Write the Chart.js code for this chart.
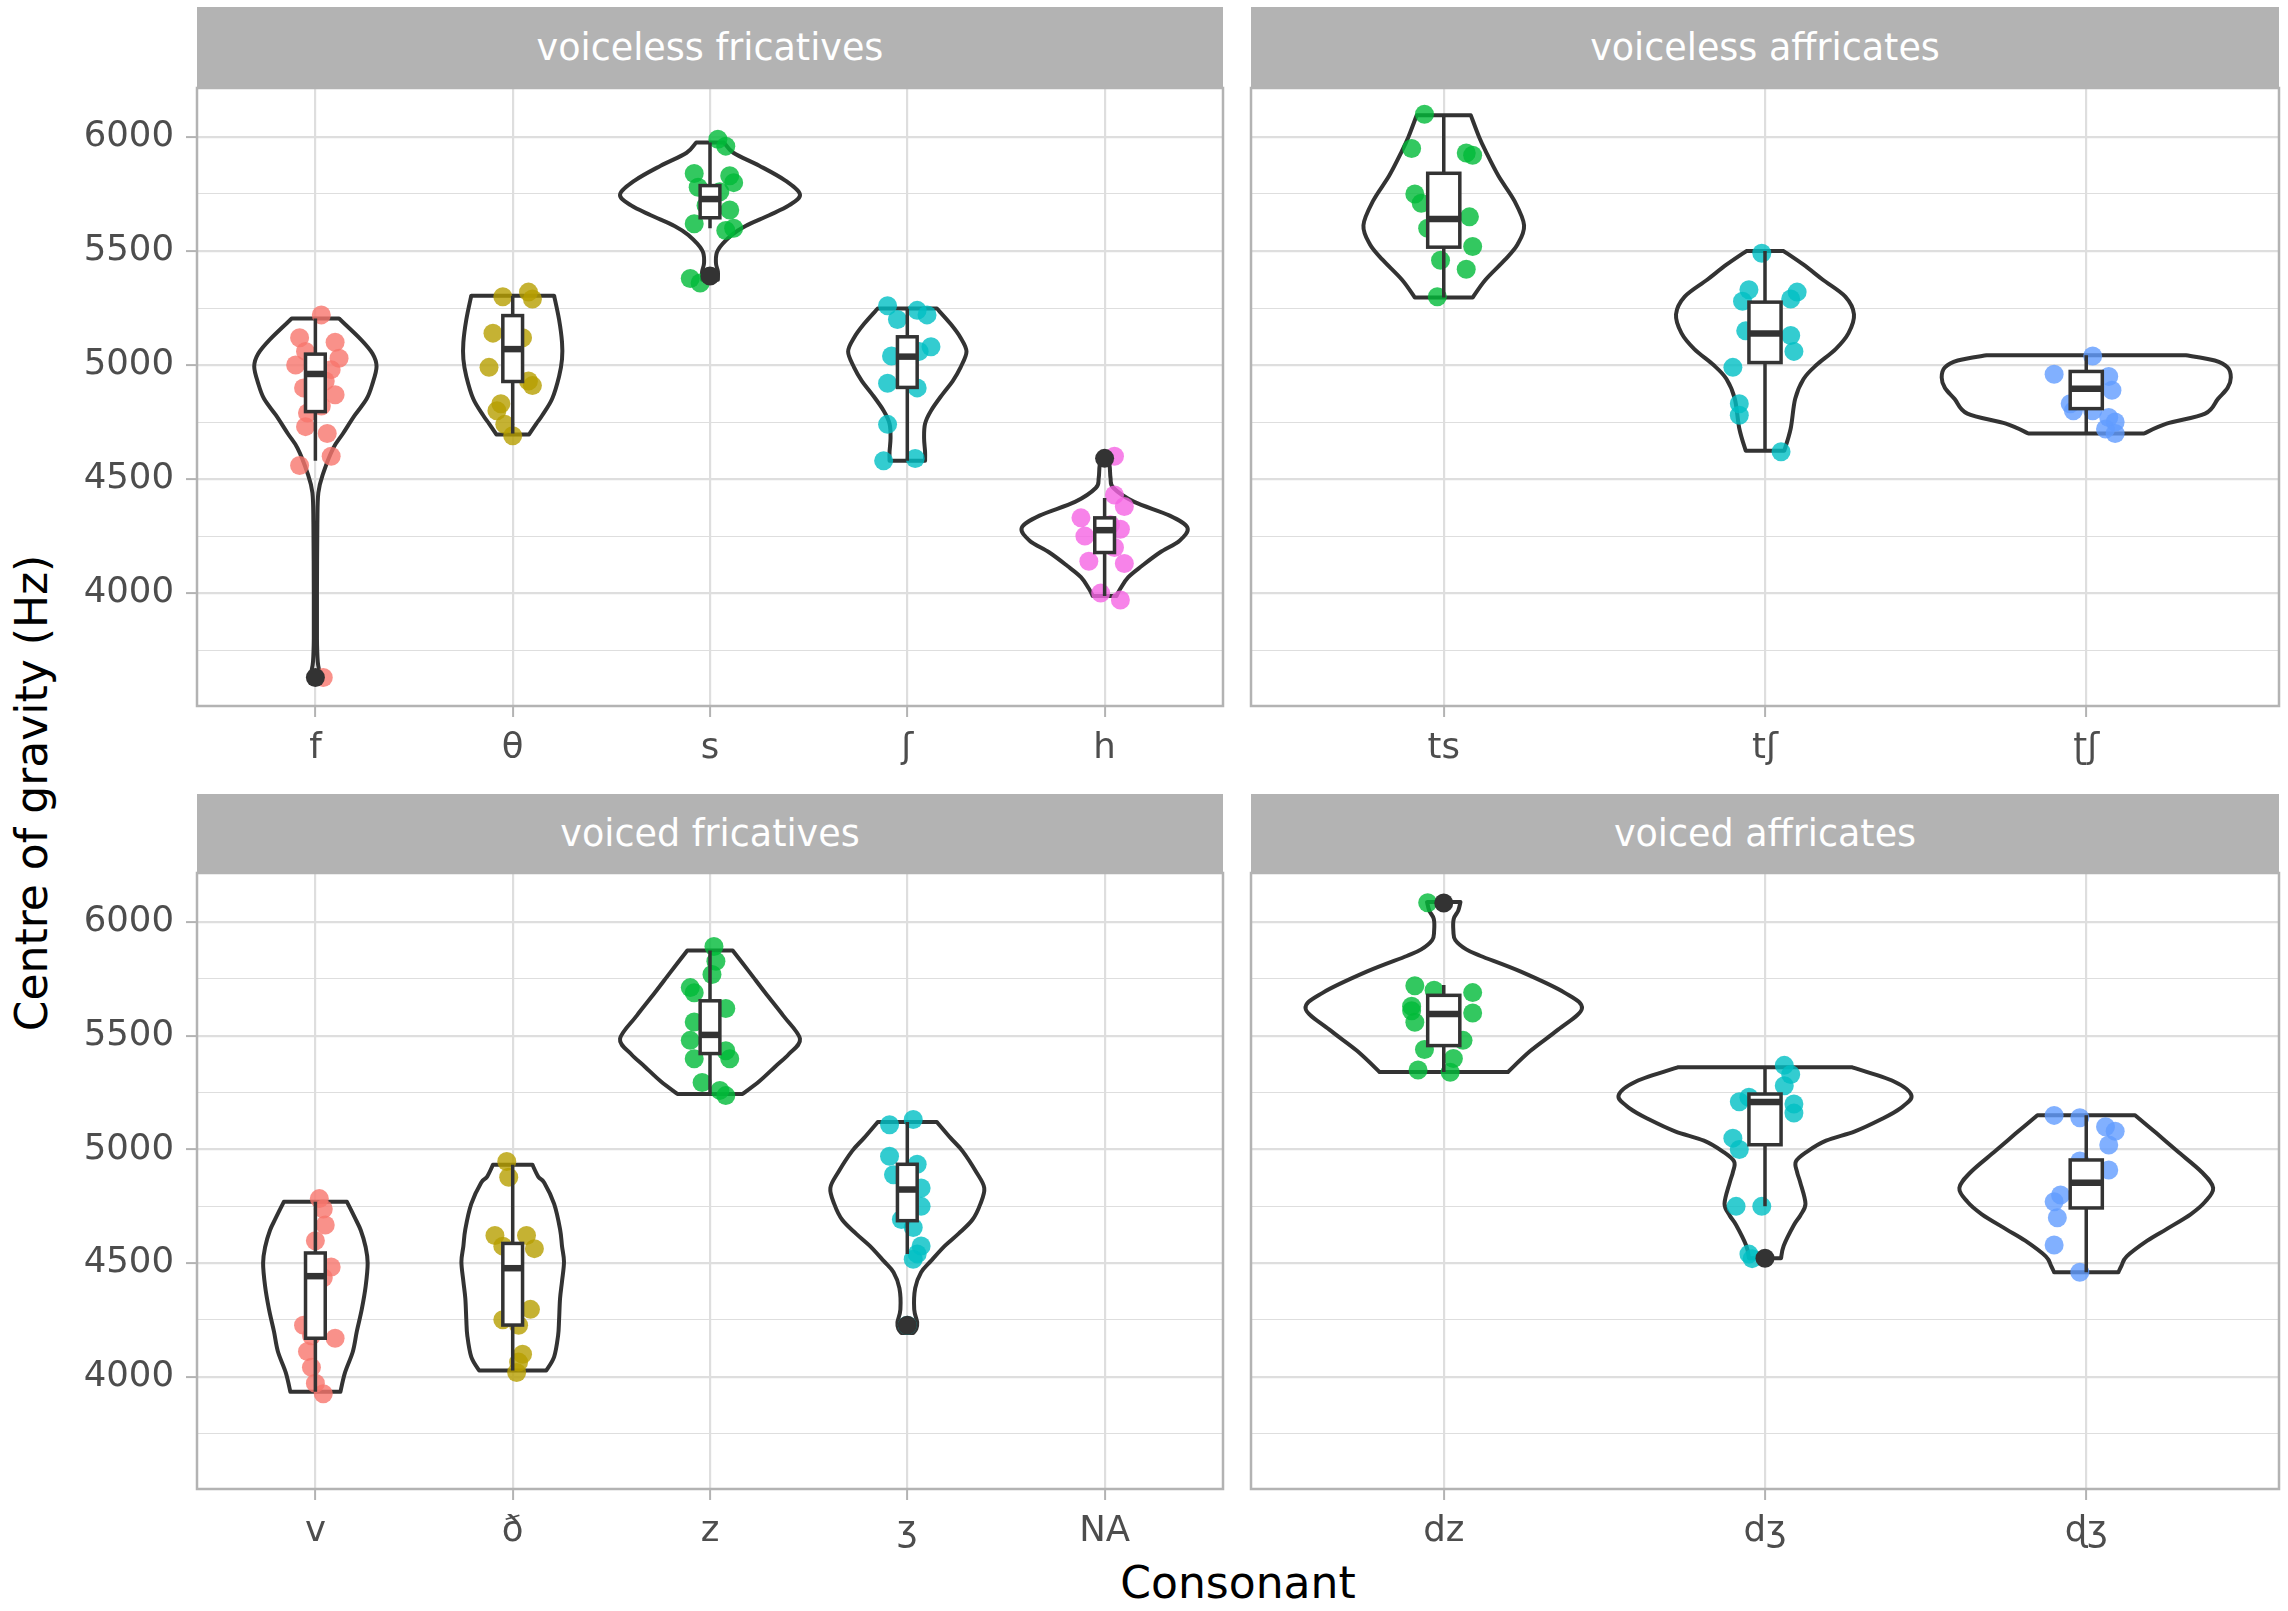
<!DOCTYPE html>
<html>
<head>
<meta charset="utf-8">
<title>Centre of gravity by consonant</title>
<script src="https://cdn.jsdelivr.net/npm/chart.js@4.4.1/dist/chart.umd.min.js"></script>
<style>
  body { margin: 0; background: #fff; width: 2288px; height: 1611px; overflow: hidden; position: relative; font-family: "DejaVu Sans", sans-serif; }
  .strip { position: absolute; background: #B3B3B3; color: #fff; font-size: 36.5px; display: flex; align-items: center; justify-content: center; }
  canvas { position: absolute; }
  .axtitle { position: absolute; color: #000; font-size: 44px; white-space: nowrap; text-align: center; height: 56px; line-height: 56px; }
</style>
</head>
<body>
<div class="axtitle" style="left:-268px; top:765px; width:600px; transform:rotate(-90deg);">Centre of gravity (Hz)</div>
<div class="axtitle" style="left:938px; top:1555px; width:600px;">Consonant</div>
<script>
// Categories per facet
const vlFricCats = ['f', 'θ', 's', 'ʃ', 'h'];
const vlAffrCats = ['ts', 'tʃ', 'ʈʃ'];
const vdFricCats = ['v', 'ð', 'z', 'ʒ', 'NA'];
const vdAffrCats = ['dz', 'dʒ', 'ɖʒ'];
const facetTitles = ['voiceless fricatives', 'voiceless affricates', 'voiced fricatives', 'voiced affricates'];

// y axis (Hz)
const yMajorTicks = [4000, 4500, 5000, 5500, 6000];
const yMinorTicks = [3750, 4250, 4750, 5250, 5750];

// Boxplot stats: [lower whisker, Q1, median, Q3, upper whisker]
const box_f   = [4580, 4796, 4961, 5048, 5204];
const box_th  = [4700, 4928, 5070, 5217, 5304];
const box_s   = [5600, 5646, 5728, 5787, 5976];
const box_sh  = [4580, 4902, 5037, 5124, 5248];
const box_h   = [3987, 4178, 4276, 4330, 4417];
const box_ts  = [5296, 5517, 5641, 5841, 6096];
const box_tsh = [4624, 5011, 5139, 5276, 5500];
const box_tsr = [4700, 4809, 4896, 4972, 5043];
const box_v   = [3935, 4170, 4443, 4545, 4770];
const box_dh  = [4028, 4228, 4478, 4587, 4933];
const box_z   = [5244, 5422, 5504, 5654, 5875];
const box_zh  = [4541, 4687, 4824, 4935, 5121];
const box_dz  = [5341, 5457, 5596, 5678, 5724];
const box_dzh = [4750, 5021, 5209, 5244, 5362];
const box_dzr = [4460, 4743, 4854, 4954, 5151];

// Boxplot outliers
const out_f = [3630];
const out_s = [5391];
const out_h = [4591];
const out_zh = [4227];
const out_dz = [6084];
const out_dzh = [4522];

// Violin outlines: [Hz, half width in category units]
const vio_f = [[5204,0.12],[5113,0.23],[5050,0.29],[4994,0.31],[4920,0.29],[4852,0.26],[4780,0.2],[4700,0.14],[4635,0.09],[4526,0.04],[4440,0.015],[4300,0.01],[4000,0.008],[3800,0.008],[3700,0.012],[3655,0.02],[3630,0.015]];
const vio_th = [[5304,0.21],[5200,0.235],[5100,0.25],[5026,0.25],[4950,0.235],[4852,0.2],[4780,0.15],[4743,0.12],[4696,0.083]];
const vio_s = [[5976,0.07],[5930,0.12],[5874,0.25],[5810,0.38],[5748,0.456],[5700,0.4],[5657,0.3],[5610,0.18],[5570,0.11],[5504,0.04],[5450,0.03],[5410,0.04],[5374,0.04]];
const vio_sh = [[5248,0.15],[5180,0.22],[5120,0.27],[5059,0.3],[4990,0.27],[4930,0.23],[4874,0.18],[4800,0.12],[4743,0.09],[4680,0.085],[4620,0.09],[4580,0.09]];
const vio_h = [[4602,0.01],[4560,0.025],[4504,0.03],[4461,0.045],[4400,0.15],[4340,0.33],[4287,0.42],[4230,0.38],[4178,0.28],[4120,0.19],[4070,0.12],[4020,0.08],[3987,0.06]];
const vio_ts = [[6096,0.084],[6000,0.11],[5939,0.13],[5830,0.17],[5720,0.22],[5613,0.25],[5530,0.23],[5461,0.19],[5374,0.13],[5296,0.09]];
const vio_tsh = [[5500,0.058],[5440,0.12],[5374,0.18],[5300,0.25],[5222,0.277],[5140,0.26],[5070,0.22],[5000,0.16],[4939,0.12],[4852,0.094],[4722,0.08],[4624,0.06]];
const vio_tsr = [[5043,0.31],[5020,0.4],[4990,0.44],[4946,0.45],[4900,0.44],[4852,0.41],[4787,0.37],[4743,0.25],[4700,0.18]];
const vio_v = [[4770,0.16],[4700,0.2],[4645,0.23],[4570,0.255],[4501,0.265],[4400,0.255],[4297,0.235],[4200,0.21],[4112,0.19],[4019,0.15],[3935,0.127]];
const vio_dh = [[4933,0.1],[4880,0.13],[4854,0.16],[4761,0.21],[4650,0.24],[4575,0.25],[4506,0.26],[4420,0.25],[4344,0.24],[4250,0.235],[4181,0.23],[4088,0.21],[4028,0.17]];
const vio_z = [[5875,0.115],[5780,0.2],[5689,0.28],[5590,0.37],[5487,0.456],[5420,0.4],[5364,0.33],[5300,0.25],[5244,0.165]];
const vio_zh = [[5121,0.15],[5050,0.22],[4993,0.28],[4900,0.35],[4831,0.39],[4760,0.37],[4691,0.33],[4630,0.26],[4576,0.19],[4510,0.12],[4460,0.07],[4390,0.04],[4297,0.035],[4240,0.05],[4210,0.045],[4193,0.03]];
const vio_dz = [[6088,0.052],[6050,0.045],[6014,0.031],[5960,0.03],[5921,0.036],[5880,0.07],[5851,0.115],[5782,0.24],[5689,0.377],[5619,0.43],[5527,0.356],[5434,0.27],[5341,0.2]];
const vio_dzh = [[5362,0.27],[5300,0.4],[5237,0.456],[5180,0.42],[5132,0.36],[5080,0.28],[5039,0.19],[4990,0.13],[4947,0.096],[4900,0.1],[4854,0.11],[4761,0.126],[4710,0.11],[4668,0.09],[4576,0.058],[4522,0.05]];
const vio_dzr = [[5151,0.152],[5070,0.22],[4993,0.283],[4900,0.36],[4831,0.395],[4770,0.37],[4715,0.325],[4650,0.25],[4599,0.19],[4530,0.126],[4490,0.11],[4460,0.1]];

// Jittered tokens: [horizontal jitter, Hz]
const pts_f = [[0.03,5220],[-0.08,5120],[0.1,5100],[-0.05,5060],[0.12,5030],[-0.1,5000],[0.08,4980],[0.05,4930],[-0.06,4900],[0.1,4870],[0.03,4820],[-0.04,4790],[-0.05,4730],[0.06,4700],[0.08,4600],[-0.08,4560],[0.04,3630]];
const pts_th = [[0.08,5320],[-0.05,5300],[0.1,5290],[-0.1,5140],[0.05,5120],[-0.12,4990],[0.08,4930],[0.1,4910],[-0.06,4830],[-0.08,4800],[-0.04,4740],[0.0,4690]];
const pts_s = [[0.04,5990],[0.08,5960],[-0.08,5840],[0.1,5830],[0.12,5800],[-0.06,5780],[0.05,5760],[-0.02,5700],[0.1,5680],[-0.08,5620],[0.12,5600],[0.08,5590],[-0.1,5380],[-0.05,5360]];
const pts_sh = [[-0.1,5260],[0.05,5240],[0.1,5220],[-0.05,5200],[0.12,5080],[0.06,5060],[-0.08,5040],[-0.1,4920],[0.05,4900],[-0.1,4740],[-0.12,4580],[0.04,4590]];
const pts_h = [[0.05,4600],[0.05,4430],[0.1,4380],[-0.12,4330],[0.03,4300],[0.08,4280],[-0.1,4250],[0.05,4200],[-0.08,4140],[0.1,4130],[-0.02,4000],[0.08,3970]];
const pts_ts = [[-0.06,6100],[-0.1,5950],[0.07,5930],[0.09,5920],[-0.09,5750],[-0.07,5710],[0.08,5650],[-0.05,5600],[0.09,5520],[-0.01,5460],[0.07,5420],[-0.02,5300]];
const pts_tsh = [[-0.01,5490],[-0.05,5330],[0.1,5320],[0.08,5290],[-0.07,5280],[-0.06,5150],[0.08,5130],[0.09,5060],[-0.1,4990],[-0.08,4830],[-0.08,4780],[0.05,4620]];
const pts_tsr = [[0.02,5040],[-0.1,4960],[0.07,4950],[0.0,4900],[0.08,4890],[-0.05,4830],[-0.04,4800],[0.02,4800],[0.07,4770],[0.09,4750],[0.06,4720],[0.09,4700]];
const pts_v = [[0.02,4784],[0.04,4738],[0.05,4668],[0.0,4599],[0.08,4483],[0.04,4436],[-0.06,4227],[-0.02,4181],[0.1,4170],[-0.04,4112],[-0.02,4042],[0.0,3972],[0.04,3926]];
const pts_dh = [[-0.03,4947],[-0.02,4878],[-0.09,4622],[0.07,4622],[0.11,4564],[-0.05,4575],[0.09,4297],[-0.05,4251],[0.03,4227],[0.05,4100],[0.03,4065],[0.02,4019]];
const pts_z = [[0.02,5893],[0.03,5828],[0.01,5770],[-0.1,5712],[-0.08,5689],[0.08,5620],[-0.08,5561],[-0.1,5480],[0.08,5434],[0.1,5399],[-0.08,5399],[-0.04,5295],[0.05,5260],[0.08,5237]];
const pts_zh = [[0.03,5132],[-0.09,5109],[-0.09,4970],[0.05,4935],[-0.07,4889],[0.07,4831],[0.01,4784],[0.07,4750],[-0.03,4692],[0.03,4657],[0.07,4576],[0.05,4541],[0.03,4517],[0.0,4227]];
const pts_dz = [[-0.05,6085],[-0.09,5720],[-0.03,5700],[0.09,5690],[-0.1,5630],[-0.1,5610],[0.09,5600],[-0.09,5560],[0.06,5480],[-0.06,5440],[0.03,5400],[-0.08,5350],[0.02,5340]];
const pts_dzh = [[0.06,5370],[0.08,5330],[0.06,5280],[-0.05,5230],[-0.08,5210],[0.09,5200],[0.09,5160],[-0.1,5050],[-0.08,5000],[-0.09,4750],[-0.01,4750],[-0.05,4540],[-0.04,4520]];
const pts_dzr = [[-0.1,5150],[-0.02,5140],[0.06,5100],[0.09,5080],[0.07,5020],[-0.02,4950],[0.07,4910],[-0.08,4800],[-0.1,4770],[-0.09,4700],[-0.1,4580],[-0.02,4460]];

// Fill colours (place of articulation)
const vlFricColors = ['#F8766D', '#B79F00', '#00BA38', '#00BFC4', '#F564E3'];
const vlAffrColors = ['#00BA38', '#00BFC4', '#619CFF'];
const vdFricColors = ['#F8766D', '#B79F00', '#00BA38', '#00BFC4', null];
const vdAffrColors = ['#00BA38', '#00BFC4', '#619CFF'];

const LINE = '#333333';
const GRID = '#DEDEDE';
const FRAME = '#B3B3B3';

// Panel layout in page pixels
const panels = [
    { title: facetTitles[0], cats: vlFricCats, colors: vlFricColors, showY: true,
      boxes: [box_f, box_th, box_s, box_sh, box_h], outs: [out_f, [], out_s, [], out_h],
      vios: [vio_f, vio_th, vio_s, vio_sh, vio_h], pts: [pts_f, pts_th, pts_s, pts_sh, pts_h],
      L: 197, T: 88, R: 1223, B: 706, S: 7, yMin: 3505, yMax: 6215 },
    { title: facetTitles[1], cats: vlAffrCats, colors: vlAffrColors, showY: false,
      boxes: [box_ts, box_tsh, box_tsr], outs: [[], [], []],
      vios: [vio_ts, vio_tsh, vio_tsr], pts: [pts_ts, pts_tsh, pts_tsr],
      L: 1251, T: 88, R: 2279, B: 706, S: 7, yMin: 3505, yMax: 6215 },
    { title: facetTitles[2], cats: vdFricCats, colors: vdFricColors, showY: true,
      boxes: [box_v, box_dh, box_z, box_zh, null], outs: [[], [], [], out_zh, []],
      vios: [vio_v, vio_dh, vio_z, vio_zh, null], pts: [pts_v, pts_dh, pts_z, pts_zh, []],
      L: 197, T: 873, R: 1223, B: 1489, S: 794, yMin: 3507, yMax: 6216 },
    { title: facetTitles[3], cats: vdAffrCats, colors: vdAffrColors, showY: false,
      boxes: [box_dz, box_dzh, box_dzr], outs: [out_dz, out_dzh, []],
      vios: [vio_dz, vio_dzh, vio_dzr], pts: [pts_dz, pts_dzh, pts_dzr],
      L: 1251, T: 873, R: 2279, B: 1489, S: 794, yMin: 3507, yMax: 6216 }
];

const PAD = 4;
const Y_AXIS_W = 137;
const X_AXIS_H = 80;

function withAlpha(hex, a) {
    const n = parseInt(hex.slice(1), 16);
    return `rgba(${(n >> 16) & 255}, ${(n >> 8) & 255}, ${n & 255}, ${a})`;
}

// Catmull-Rom spline through pixel points
function spline(ctx, p) {
    for (let k = 0; k < p.length - 1; k++) {
        const p0 = p[k - 1] || p[k], p1 = p[k], p2 = p[k + 1], p3 = p[k + 2] || p[k + 1];
        ctx.bezierCurveTo(
            p1.x + (p2.x - p0.x) / 6, p1.y + (p2.y - p0.y) / 6,
            p2.x - (p3.x - p1.x) / 6, p2.y - (p3.y - p1.y) / 6,
            p2.x, p2.y);
    }
}

// Violins under the points, boxes just before the outliers, frame last
const violinPlugin = {
    id: 'violins',
    beforeDatasetsDraw(chart) {
        const cfg = chart.options.plugins.violins;
        const xs = chart.scales.x, ys = chart.scales.y, ctx = chart.ctx;
        ctx.save();
        ctx.strokeStyle = LINE;
        ctx.lineWidth = 4;
        ctx.lineJoin = 'round';
        cfg.vios.forEach((prof, i) => {
            if (!prof) return;
            const right = prof.map(p => ({ x: xs.getPixelForValue(i + p[1]), y: ys.getPixelForValue(p[0]) }));
            const left = prof.map(p => ({ x: xs.getPixelForValue(i - p[1]), y: ys.getPixelForValue(p[0]) })).reverse();
            ctx.beginPath();
            ctx.moveTo(left[left.length - 1].x, left[left.length - 1].y);
            ctx.lineTo(right[0].x, right[0].y);
            spline(ctx, right);
            ctx.lineTo(left[0].x, left[0].y);
            spline(ctx, left);
            ctx.closePath();
            ctx.stroke();
        });
        ctx.restore();
    },
    beforeDatasetDraw(chart, args) {
        const cfg = chart.options.plugins.violins;
        if (args.index !== cfg.outlierIndex) return;
        const xs = chart.scales.x, ys = chart.scales.y, ctx = chart.ctx;
        ctx.save();
        ctx.strokeStyle = LINE;
        cfg.boxes.forEach((b, i) => {
            if (!b) return;
            const [lw, q1, med, q3, uw] = b;
            const x0 = xs.getPixelForValue(i - 0.05), x1 = xs.getPixelForValue(i + 0.05), xc = xs.getPixelForValue(i);
            ctx.lineWidth = 3.5;
            ctx.beginPath();
            ctx.moveTo(xc, ys.getPixelForValue(uw));
            ctx.lineTo(xc, ys.getPixelForValue(q3));
            ctx.moveTo(xc, ys.getPixelForValue(q1));
            ctx.lineTo(xc, ys.getPixelForValue(lw));
            ctx.stroke();
            const yTop = ys.getPixelForValue(q3), yBot = ys.getPixelForValue(q1);
            ctx.fillStyle = '#fff';
            ctx.fillRect(x0, yTop, x1 - x0, yBot - yTop);
            ctx.strokeRect(x0, yTop, x1 - x0, yBot - yTop);
            ctx.lineWidth = 6.5;
            ctx.beginPath();
            ctx.moveTo(x0, ys.getPixelForValue(med));
            ctx.lineTo(x1, ys.getPixelForValue(med));
            ctx.stroke();
        });
        ctx.restore();
    },
    afterDraw(chart) {
        const a = chart.chartArea, ctx = chart.ctx;
        ctx.save();
        ctx.strokeStyle = FRAME;
        ctx.lineWidth = 2.5;
        ctx.strokeRect(a.left, a.top, a.right - a.left, a.bottom - a.top);
        ctx.restore();
    }
};

// no label overhang padding: the panel rectangle is fixed
function noOverhang(s) {
    s.paddingTop = 0;
    s.paddingBottom = 0;
    s.paddingLeft = 0;
    s.paddingRight = 0;
}

function buildPanel(p) {
    const yW = p.showY ? Y_AXIS_W : 0;

    const strip = document.createElement('div');
    strip.className = 'strip';
    strip.style.left = p.L + 'px';
    strip.style.top = p.S + 'px';
    strip.style.width = (p.R - p.L) + 'px';
    strip.style.height = (p.T - p.S) + 'px';
    strip.textContent = p.title;
    document.body.appendChild(strip);

    const canvas = document.createElement('canvas');
    const w = p.R - p.L + yW + 2 * PAD;
    const h = p.B - p.T + PAD + X_AXIS_H;
    canvas.width = w;
    canvas.height = h;
    canvas.style.left = (p.L - yW - PAD) + 'px';
    canvas.style.top = (p.T - PAD) + 'px';
    canvas.style.width = w + 'px';
    canvas.style.height = h + 'px';
    document.body.appendChild(canvas);

    const datasets = p.pts.map((pts, i) => ({
        type: 'scatter',
        data: pts.map(q => ({ x: i + q[0], y: q[1] })),
        backgroundColor: p.colors[i] ? withAlpha(p.colors[i], 0.8) : 'transparent',
        borderWidth: 0,
        pointRadius: 9.5,
        order: 1
    }));
    const outliers = [];
    p.outs.forEach((o, i) => o.forEach(v => outliers.push({ x: i, y: v })));
    datasets.push({
        type: 'scatter',
        data: outliers,
        backgroundColor: LINE,
        borderWidth: 0,
        pointRadius: 9.5,
        order: 0
    });

    const allY = yMinorTicks.concat(yMajorTicks).sort((a, b) => a - b);
    const isMajor = v => yMajorTicks.includes(v);

    new Chart(canvas, {
        type: 'scatter',
        data: { datasets },
        plugins: [violinPlugin],
        options: {
            responsive: false,
            animation: false,
            devicePixelRatio: 1,
            events: [],
            layout: { autoPadding: false, padding: { left: PAD, right: PAD, top: PAD, bottom: 0 } },
            plugins: {
                legend: { display: false },
                tooltip: { enabled: false },
                violins: { vios: p.vios, boxes: p.boxes, outlierIndex: datasets.length - 1 }
            },
            scales: {
                x: {
                    type: 'linear',
                    min: -0.6,
                    max: p.cats.length - 1 + 0.6,
                    afterBuildTicks: s => { s.ticks = p.cats.map((c, i) => ({ value: i })); },
                    afterFit: s => { s.height = X_AXIS_H; noOverhang(s); },
                    border: { display: false },
                    grid: { color: GRID, lineWidth: 2.2, tickLength: 11, tickColor: FRAME, tickWidth: 2 },
                    ticks: {
                        callback: v => p.cats[v],
                        color: '#4D4D4D',
                        font: { family: 'DejaVu Sans', size: 35.5 },
                        padding: 10,
                        maxRotation: 0,
                        autoSkip: false
                    }
                },
                y: {
                    type: 'linear',
                    min: p.yMin,
                    max: p.yMax,
                    afterBuildTicks: s => { s.ticks = allY.map(v => ({ value: v })); },
                    afterFit: s => { s.width = yW; noOverhang(s); },
                    border: { display: false },
                    grid: {
                        color: GRID,
                        lineWidth: c => isMajor(c.tick.value) ? 2.2 : 1.1,
                        drawTicks: p.showY,
                        tickLength: 11,
                        tickColor: c => isMajor(c.tick.value) ? FRAME : 'rgba(0,0,0,0)',
                        tickWidth: 2
                    },
                    ticks: {
                        display: p.showY,
                        callback: v => isMajor(v) ? String(v) : '',
                        color: '#4D4D4D',
                        font: { family: 'DejaVu Sans', size: 35.5 },
                        padding: 12,
                        autoSkip: false
                    }
                }
            }
        }
    });
}

panels.forEach(buildPanel);
</script>
</body>
</html>
